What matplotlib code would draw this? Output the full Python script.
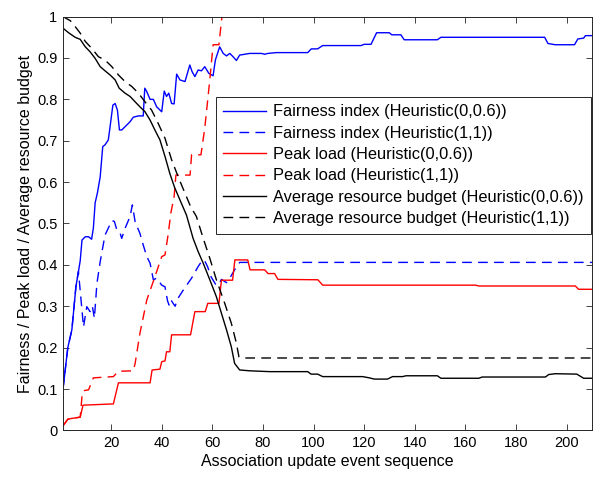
import matplotlib
matplotlib.use("Agg")
import matplotlib.pyplot as plt

plt.rcParams['font.family'] = ['Liberation Sans', 'DejaVu Sans']

# Fairness index
fair_x1 = [1, 2.9, 4.5, 6.1, 7.1, 7.8, 8.5, 9.8, 11.1, 12.3, 13.0, 13.7, 14.6, 15.7, 16.7, 17.6, 18.9,
           19.6, 20.7, 21.6, 22.5, 23.3, 24.2, 26.2, 27.5, 28.8, 30.8, 32.7, 33.3, 34.0, 35.4, 36.7, 38,
           40, 41, 41.9, 42.8, 43.9, 44.9, 45.9, 47.2, 49.2, 51.1, 52.0, 53.1, 54.4, 55.7, 57.0, 58.6,
           60.3, 61.2, 62.9, 64.3, 65.6, 66.9, 68.2, 69.5, 70.8, 74.8, 79.4, 80.7, 81.9, 85.3, 97.7, 99.1,
           101.6, 103.6, 118.7, 120, 122.7, 124.9, 129.9, 130.9, 134.5, 135.8, 148.9, 150.3, 191.3, 192.6,
           195.5, 203.1, 204.4, 206.7, 207.4, 210]
fair_y1 = [0.10, 0.20, 0.243, 0.347, 0.384, 0.41, 0.46, 0.468, 0.468, 0.462, 0.489, 0.55, 0.574, 0.613,
           0.686, 0.69, 0.702, 0.734, 0.786, 0.79, 0.774, 0.726, 0.726, 0.738, 0.746, 0.757, 0.76, 0.76,
           0.827, 0.82, 0.80, 0.80, 0.782, 0.77, 0.82, 0.807, 0.815, 0.79, 0.789, 0.861, 0.847, 0.843,
           0.883, 0.867, 0.855, 0.871, 0.869, 0.879, 0.863, 0.857, 0.895, 0.927, 0.911, 0.905, 0.911,
           0.903, 0.894, 0.907, 0.911, 0.911, 0.909, 0.911, 0.913, 0.913, 0.922, 0.922, 0.93, 0.93, 0.933,
           0.933, 0.961, 0.961, 0.956, 0.956, 0.944, 0.944, 0.95, 0.95, 0.935, 0.932, 0.932, 0.946, 0.948,
           0.954, 0.954]
fair_x2 = [1, 2.9, 4.5, 6.1, 7.1, 9.1, 10.4, 11.7, 12.6, 13.4, 14.4, 15.7, 17.6, 20.3, 21.3, 22.3, 23.6,
           24.2, 25.5, 27.5, 28.4, 29.5, 31.4, 32.7, 34.1, 35.4, 36.7, 38, 40, 41.3, 42.3, 42.9, 43.6,
           44.6, 45.3, 46.3, 48.5, 51.8, 54.4, 55.7, 56.8, 58.1, 59.5, 61.3, 62.3, 63.6, 65.6, 66.9,
           68.8, 70.8, 210]
fair_y2 = [0.10, 0.20, 0.243, 0.347, 0.384, 0.25, 0.299, 0.287, 0.30, 0.271, 0.355, 0.408, 0.472, 0.507,
           0.505, 0.484, 0.476, 0.464, 0.488, 0.517, 0.545, 0.504, 0.476, 0.448, 0.42, 0.404, 0.364,
           0.368, 0.351, 0.347, 0.313, 0.303, 0.316, 0.306, 0.30, 0.318, 0.339, 0.368, 0.396, 0.408,
           0.412, 0.396, 0.371, 0.353, 0.351, 0.365, 0.357, 0.368, 0.388, 0.406, 0.406]

# Peak load
peak_x1 = [1, 2.9, 4.5, 7.8, 8.9, 20.9, 22.9, 35.4, 36.2, 39.3, 40, 41.3, 41.9, 43.2, 43.9, 51.4, 53.1,
           57.2, 58.2, 62.6, 63.6, 68.0, 68.9, 74.0, 74.9, 80.7, 82, 84.6, 85.9, 101.7, 103.6, 164,
           165.3, 203.4, 204.7, 210]
peak_y1 = [0.011, 0.027, 0.029, 0.032, 0.061, 0.064, 0.115, 0.115, 0.146, 0.148, 0.166, 0.168, 0.19,
           0.19, 0.231, 0.231, 0.287, 0.287, 0.307, 0.307, 0.363, 0.363, 0.412, 0.412, 0.388, 0.388,
           0.379, 0.379, 0.365, 0.364, 0.351, 0.351, 0.349, 0.349, 0.341, 0.341]
peak_x2 = [1, 2.9, 4.5, 7.8, 8.5, 9.1, 11.1, 13, 20.9, 22.9, 28.8, 29.5, 31.4, 34.1, 37.3, 40, 41.3,
           42.6, 43.6, 44.9, 45.6, 51.2, 51.8, 55.5, 57, 59, 60.3, 62.6, 63.8, 210]
peak_y2 = [0.011, 0.027, 0.029, 0.032, 0.082, 0.096, 0.098, 0.127, 0.13, 0.143, 0.144, 0.162, 0.235,
           0.315, 0.371, 0.42, 0.424, 0.476, 0.525, 0.565, 0.617, 0.617, 0.666, 0.666, 0.73, 0.847,
           0.932, 0.932, 1.0, 1.0]

# Average resource budget
budget_x1 = [1, 3.2, 5.8, 7.8, 9.8, 11.7, 13.7, 15.7, 17.6, 19.6, 21.6, 23.2, 25.5, 27.5, 29.5, 31.4,
             33.4, 35.4, 37.3, 39.3, 41.3, 43.2, 45.1, 47.2, 49.8, 52.4, 54.4, 56.4, 59, 61.6, 63.6,
             65.6, 67.5, 68.8, 70.8, 74.8, 82.7, 97.7, 99, 101.6, 103.6, 119.4, 122, 124, 129.2, 131.2,
             135.2, 136.5, 148.9, 150.3, 165.3, 166.6, 191.6, 192.9, 195.5, 204, 206.7, 210]
budget_y1 = [0.972, 0.961, 0.95, 0.945, 0.927, 0.915, 0.899, 0.879, 0.869, 0.859, 0.847, 0.827, 0.815,
             0.807, 0.794, 0.782, 0.77, 0.75, 0.726, 0.702, 0.662, 0.621, 0.587, 0.557, 0.52, 0.464,
             0.432, 0.404, 0.364, 0.323, 0.283, 0.243, 0.202, 0.162, 0.146, 0.144, 0.142, 0.142, 0.136,
             0.136, 0.13, 0.13, 0.127, 0.124, 0.124, 0.13, 0.13, 0.132, 0.132, 0.126, 0.126, 0.129,
             0.129, 0.135, 0.137, 0.136, 0.126, 0.126]
budget_x2 = [1, 3.9, 5.8, 7.8, 9.8, 12.4, 15, 17.6, 20.3, 22.9, 25.5, 28.2, 30.8, 33.4, 36, 38.6, 41.3,
             43.9, 46.5, 48.8, 51.4, 53.7, 56.4, 59, 61.6, 64.9, 67.5, 69.5, 70.5, 71.5, 210]
budget_y2 = [1.0, 0.99, 0.976, 0.96, 0.94, 0.923, 0.903, 0.895, 0.879, 0.859, 0.843, 0.831, 0.815,
             0.794, 0.774, 0.742, 0.706, 0.654, 0.613, 0.579, 0.541, 0.517, 0.464, 0.416, 0.364, 0.307,
             0.259, 0.211, 0.178, 0.175, 0.175]

labels = ['Fairness index (Heuristic(0,0.6))', 'Fairness index (Heuristic(1,1))',
          'Peak load (Heuristic(0,0.6))', 'Peak load (Heuristic(1,1))',
          'Average resource budget (Heuristic(0,0.6))', 'Average resource budget (Heuristic(1,1))']

fig = plt.figure(figsize=(5.94, 4.83), dpi=100)
ax = fig.add_axes([63 / 594, 1 - 430.4 / 483, 529 / 594, 413.8 / 483])

dash = (0, (7, 4.5))
lw = 1.0
ax.plot(fair_x1, fair_y1, color='#0000ff', lw=lw, label=labels[0])
ax.plot(fair_x2, fair_y2, color='#0000ff', lw=lw, ls=dash, label=labels[1])
ax.plot(peak_x1, peak_y1, color='#ff0000', lw=lw, label=labels[2])
ax.plot(peak_x2, peak_y2, color='#ff0000', lw=lw, ls=dash, label=labels[3])
ax.plot(budget_x1, budget_y1, color='black', lw=lw, label=labels[4])
ax.plot(budget_x2, budget_y2, color='black', lw=lw, ls=dash, label=labels[5])

ax.set_xlim(1, 210)
ax.set_ylim(0, 1)
ax.set_xticks(range(20, 201, 20))
yt = [i / 10 for i in range(11)]
ax.set_yticks(yt)
ax.set_yticklabels(['0' if v == 0 else ('1' if v == 1 else f'{v:g}') for v in yt])
ax.tick_params(direction='in', top=True, right=True, length=4, width=0.6, labelsize=10.5,
               color='#262626', pad=4)
for s in ax.spines.values():
    s.set_linewidth(0.7)
    s.set_color('#262626')

ax.set_xlabel('Association update event sequence', fontsize=11.5, labelpad=3)
ax.set_ylabel('Fairness / Peak load / Average resource budget', fontsize=11.5, labelpad=3)

leg = ax.legend(loc='upper left', bbox_to_anchor=(0.289, 0.806), fontsize=11.8, frameon=True,
                fancybox=False, edgecolor='#262626', framealpha=1, handlelength=2.6,
                handletextpad=0.45, labelspacing=0.39, borderpad=0.45, borderaxespad=0)
leg.get_frame().set_linewidth(0.7)

fig.savefig('out.png', dpi=100)
